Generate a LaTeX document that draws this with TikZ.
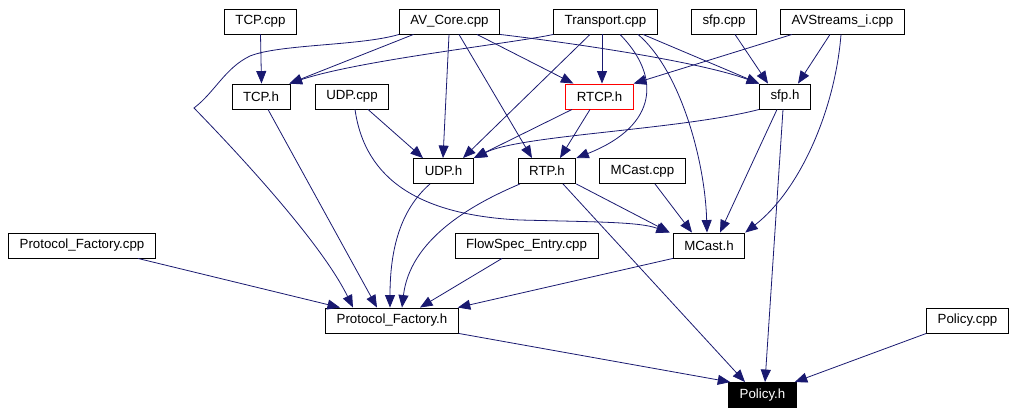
\documentclass[tikz,border=0pt]{standalone}
\usepackage{fontspec}
\setmainfont{Liberation Sans}
\usepackage{tikz}
\usetikzlibrary{arrows.meta, positioning}

\definecolor{edgeblue}{RGB}{25,25,112}

\begin{document}
\begin{tikzpicture}[>={Triangle[length=12.5pt,width=10pt]}, x=1pt, y=-1pt, semithick]
\tikzstyle{file}=[draw=black, fill=white, line width=0.9pt, minimum height=25pt, inner xsep=11pt, inner ysep=0pt, font=\fontsize{13.3}{15}\selectfont]
\tikzstyle{dep}=[->, color=edgeblue, line width=0.8pt]

\useasboundingbox (0,0) rectangle (1016,415);

% top row
\node[file] (tcpcpp) at (260.5,21.5) {TCP.cpp};
\node[file] (avcore) at (449.5,21.5) {AV\_Core.cpp};
\node[file] (transport) at (605.5,21.5) {Transport.cpp};
\node[file] (sfpcpp) at (724,21.5) {sfp.cpp};
\node[file] (avstreams) at (842.5,21.5) {AVStreams\_i.cpp};

\node[file] (tcph) at (261,96.5) {TCP.h};
\node[file] (udpcpp) at (352,96.5) {UDP.cpp};
\node[file][draw=red] (rtcph) at (599.5,96.5) {RTCP.h};
\node[file] (sfph) at (785,96.5) {sfp.h};

\node[file] (udph) at (443.5,171) {UDP.h};
\node[file] (rtph) at (547,171) {RTP.h};
\node[file] (mcastcpp) at (642.5,171) {MCast.cpp};

\node[file] (pfcpp) at (82,245.5) {Protocol\_Factory.cpp};
\node[file] (flowspec) at (526.5,245.5) {FlowSpec\_Entry.cpp};
\node[file] (mcasth) at (709,245.5) {MCast.h};

\node[file] (pfh) at (392,320.5) {Protocol\_Factory.h};
\node[file] (policycpp) at (967.5,320.5) {Policy.cpp};
\node[file][fill=black, text=white] (policyh) at (762.5,395) {Policy.h};

% straight dependencies
\path[dep] (tcpcpp.south) edge ([xshift=0.5pt]tcph.north);
\path[dep] ([xshift=-36pt]avcore.south) edge ([xshift=-1pt]tcph.north east);
\path[dep] ([xshift=-0.5pt]avcore.south) edge ([xshift=-0.5pt]udph.north);
\path[dep] ([xshift=9.5pt]avcore.south) edge ([xshift=-15pt]rtph.north);
\path[dep] ([xshift=27.5pt]avcore.south) edge ([xshift=8pt]rtcph.north west);
\path[dep] ([xshift=-3.5pt]transport.south) edge ([xshift=2.5pt]rtcph.north);
\path[dep] ([xshift=-15.5pt]transport.south) edge ([xshift=19.5pt]udph.north);
\path[dep] ([xshift=37.5pt]transport.south) edge (sfph.north west);
\path[dep] ([xshift=11pt]sfpcpp.south) edge ([xshift=-17pt]sfph.north);
\path[dep] ([xshift=-12.5pt]avstreams.south) edge ([xshift=13pt]sfph.north);
\path[dep] ([xshift=-50.5pt]avstreams.south) edge (rtcph.north east);
\path[dep] ([xshift=-27.5pt]rtcph.south) edge (udph.north east);
\path[dep] ([xshift=-9.5pt]rtcph.south) edge ([xshift=13pt]rtph.north);
\path[dep] ([xshift=-8pt]sfph.south) edge ([xshift=11pt]mcasth.north);
\path[dep] ([xshift=-2pt]sfph.south) edge ([xshift=2.5pt]policyh.north);
\path[dep] ([xshift=16pt]udpcpp.south) edge ([xshift=-20.5pt]udph.north);
\path[dep] ([xshift=7pt]tcph.south) edge ([xshift=-15pt]pfh.north);
\path[dep] (rtph.south east) edge ([xshift=-3pt]mcasth.north west);
\path[dep] ([xshift=16pt]rtph.south) edge ([xshift=-17.5pt]policyh.north);
\path[dep] ([xshift=12.5pt]mcastcpp.south) edge ([xshift=-17pt]mcasth.north);
\path[dep] ([xshift=-24.5pt]flowspec.south) edge ([xshift=28pt]pfh.north);
\path[dep] (mcasth.south west) edge ([xshift=-1pt]pfh.north east);
\path[dep] ([xshift=56pt]pfcpp.south) edge ([xshift=-52pt]pfh.north);
\path[dep] (pfh.south east) edge ([xshift=2pt]policyh.north west);
\path[dep] (policycpp.south west) edge ([xshift=-2pt]policyh.north east);

% curved dependencies
\draw[dep] (transport.south west) .. controls (515,43) and (360,60) .. ([xshift=-1pt]tcph.north east);
\draw[dep] (avcore.south west) .. controls (360,46) and (280,44) .. (250,56)
  .. controls (225,68) and (215,92) .. (194,108)
  .. controls (230,145) and (320,240) .. ([xshift=-39pt]pfh.north);
\draw[dep] (avcore.south east) .. controls (580,44) and (700,62) .. (sfph.north west);
\draw[dep] ([xshift=14.5pt]transport.south) .. controls (660,75) and (660,125) .. (rtph.north east);
\draw[dep] ([xshift=32.5pt]transport.south) .. controls (680,70) and (705,160) .. ([xshift=-2pt]mcasth.north);
\draw[dep] ([xshift=-1.5pt]avstreams.south) .. controls (835,110) and (800,190) .. (mcasth.north east);
\draw[dep] (sfph.south west) .. controls (680,130) and (520,135) .. ([xshift=1pt]udph.north east);
\draw[dep] ([xshift=3pt]udpcpp.south) .. controls (365,180) and (420,215) .. (520,220)
  .. controls (600,222) and (640,222) .. ([xshift=-4pt]mcasth.north west);
\draw[dep] ([xshift=-13.5pt]udph.south) .. controls (400,210) and (390,250) .. ([xshift=-2pt]pfh.north);
\draw[dep] ([xshift=-27pt]rtph.south) .. controls (470,205) and (410,240) .. ([xshift=10pt]pfh.north);
\end{tikzpicture}
\end{document}
